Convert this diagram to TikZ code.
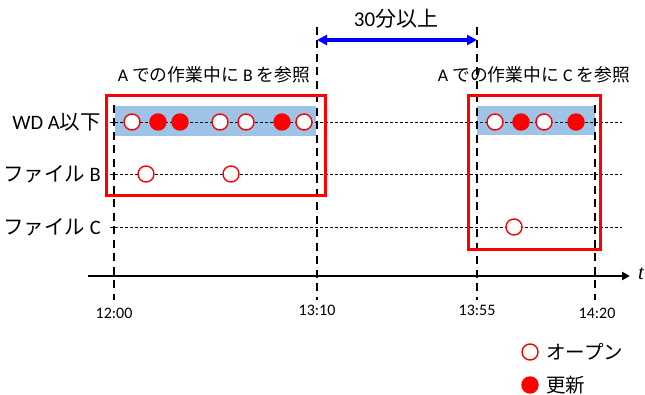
\documentclass[tikz,border=0pt]{standalone}
\usepackage{fontspec}
\setmainfont{Carlito}
\newfontfamily\jp{Noto Sans CJK JP}
\newfontfamily\tser{Liberation Serif}
\usetikzlibrary{arrows.meta}
\definecolor{bandblue}{RGB}{157,195,230}
\begin{document}
\begin{tikzpicture}[x=1pt,y=-1pt,
  openc/.style={circle,draw=red,fill=white,line width=1.4pt,minimum size=16pt,inner sep=0pt},
  fullc/.style={circle,draw=red,fill=red,line width=1.4pt,minimum size=16pt,inner sep=0pt},
  rowline/.style={black,line width=0.7pt,dash pattern=on 3pt off 2pt},
  vline/.style={black,line width=2.4pt,dash pattern=on 8pt off 5.5pt},
  band/.style={fill=bandblue,draw=none},
  redbox/.style={draw=red,line width=3pt},
  lab/.style={anchor=east,font=\fontsize{20.5}{23}\selectfont,inner sep=0pt},
  captext/.style={font=\fontsize{17.8}{20}\selectfont,inner sep=0pt},
  tlab/.style={font=\fontsize{16}{18}\selectfont,inner sep=0pt}]
\useasboundingbox (0,0) rectangle (645,395);
% bands
\fill[band] (115,106) rectangle (316,136);
\fill[band] (477,106) rectangle (595,135);
% row lines
\coordinate (rA0) at (110,122); \coordinate (rA1) at (622,122);
\coordinate (rB0) at (110,174); \coordinate (rB1) at (622,174);
\coordinate (rC0) at (110,227); \coordinate (rC1) at (622,227);
\draw[rowline] (rA0) -- (rA1);
\draw[rowline] (rB0) -- (rB1);
\draw[rowline] (rC0) -- (rC1);
% vertical dashed lines
\coordinate (v1t) at (114,105); \coordinate (v1b) at (114,300);
\coordinate (v2t) at (317,27);  \coordinate (v2b) at (317,300);
\coordinate (v3t) at (477,27);  \coordinate (v3b) at (477,300);
\coordinate (v4t) at (595,105); \coordinate (v4b) at (595,300);
\draw[vline] (v1t) -- (v1b);
\draw[vline] (v2t) -- (v2b);
\draw[vline] (v3t) -- (v3b);
\draw[vline] (v4t) -- (v4b);
% red boxes
\draw[redbox] (106,96) rectangle (325,196);
\draw[redbox] (468,96) rectangle (600,250);
% axis
\coordinate (ax0) at (88,276); \coordinate (ax1) at (630,276);
\draw[line width=2.2pt,-{Triangle[length=8pt,width=8pt]}] (ax0) -- (ax1);
\node[font=\tser\itshape\fontsize{21}{23}\selectfont,inner sep=0pt] (t) at (641,274) {t};
% time labels
\node[tlab] (t1) at (114,313) {12:00};
\node[tlab] (t2) at (317,310) {13:10};
\node[tlab] (t3) at (477,310) {13:55};
\node[tlab] (t4) at (597,313) {14:20};
% span arrow
\coordinate (s0) at (317,40); \coordinate (s1) at (477,40);
\draw[blue,line width=3.2pt,{Triangle[length=10pt,width=10pt]}-{Triangle[length=10pt,width=10pt]}] (s0) -- (s1);
\node[font=\fontsize{21}{24}\selectfont,inner sep=0pt] (span) at (396,19) {30{\jp 分以上}};
% captions
\node[captext] (capB) at (214,75) {A {\jp での作業中に} B {\jp を参照}};
\node[captext] (capC) at (534,75) {A {\jp での作業中に} C {\jp を参照}};
% row labels
\node[lab] (lA) at (101,122) {WD A{\jp 以下}};
\node[lab] (lB) at (101,174) {{\jp ファイル} B};
\node[lab] (lC) at (101,227) {{\jp ファイル} C};
% circles row A
\node[openc] (a1) at (132,122) {};
\node[fullc] (a2) at (158,122) {};
\node[fullc] (a3) at (180,122) {};
\node[openc] (a4) at (220,122) {};
\node[openc] (a5) at (246,122) {};
\node[fullc] (a6) at (282,122) {};
\node[openc] (a7) at (304,122) {};
\node[openc] (a8) at (495,122) {};
\node[fullc] (a9) at (521,122) {};
\node[openc] (a10) at (544,122) {};
\node[fullc] (a11) at (576,122) {};
% row B
\node[openc] (b1) at (146,174) {};
\node[openc] (b2) at (231,174) {};
% row C
\node[openc] (c1) at (514,227) {};
% legend
\node[openc] (lg1) at (530,352) {};
\node[fullc] (lg2) at (530,385) {};
\node[anchor=west,inner sep=0pt,font=\jp\fontsize{19.5}{22}\selectfont] (lt1) at (546,352) {オープン};
\node[anchor=west,inner sep=0pt,font=\jp\fontsize{19.5}{22}\selectfont] (lt2) at (546,385) {更新};
\end{tikzpicture}
\end{document}
